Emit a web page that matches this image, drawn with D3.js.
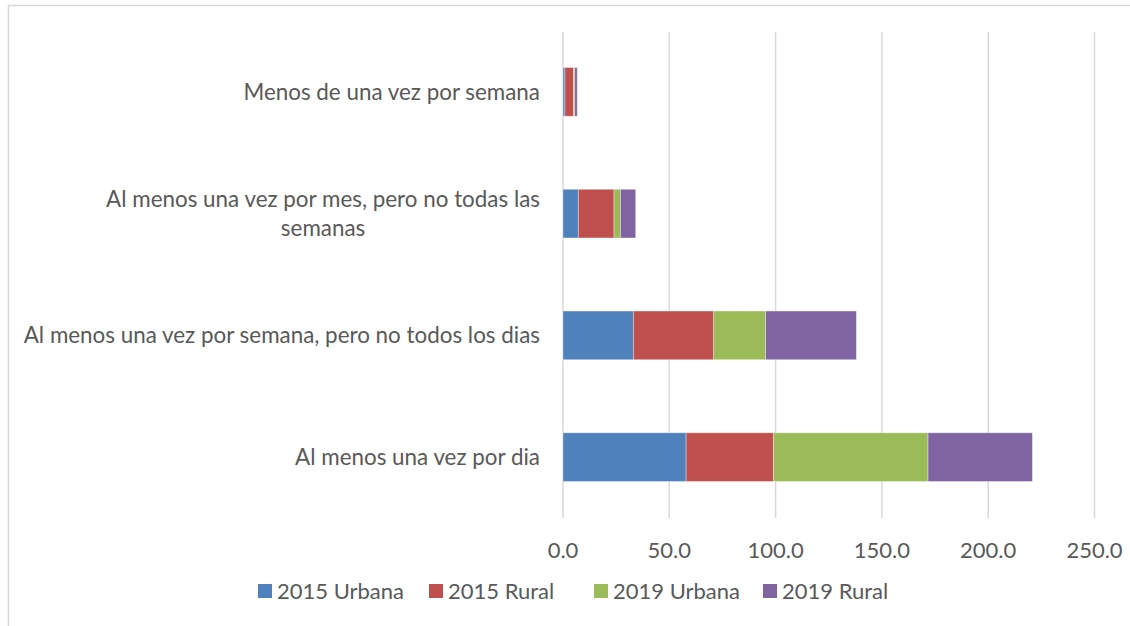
<!DOCTYPE html>
<html>
<head>
<meta charset="utf-8">
<script src="https://cdn.jsdelivr.net/npm/d3@7"></script>
<style>
  body { margin: 0; background: #fff; }
  text { font-family: Lato, "Open Sans", sans-serif; fill: #595959; }
</style>
</head>
<body>
<script>
// categories, bottom to top as in the original chart
let categories = [
  "Al menos una vez por dia",
  "Al menos una vez por semana, pero no todos los dias",
  "Al menos una vez por mes, pero no todas las semanas",
  "Menos de una vez por semana"
];
let seriesNames = ["2015 Urbana", "2015 Rural", "2019 Urbana", "2019 Rural"];
let urbana2015 = [57.9, 33.1, 7.2, 0.9];
let rural2015 = [41.1, 37.8, 16.8, 4.1];
let urbana2019 = [72.7, 24.4, 3.0, 0.5];
let rural2019 = [49.1, 42.7, 7.2, 1.2];
let ticks = [0, 50, 100, 150, 200, 250];
let colors = ["#4f81bd", "#c0504d", "#9bbb59", "#8064a2"];

let width = 1130, height = 626;

let svg = d3.select("body").append("svg")
    .attr("width", width)
    .attr("height", height);

// outer chart border (runs past the right and bottom of the picture)
svg.append("rect")
  .attr("x", 8.5).attr("y", 5.5)
  .attr("width", 1300).attr("height", 800)
  .attr("fill", "none")
  .attr("stroke", "#d9d9d9")
  .attr("stroke-width", 1.5);

// the title sits above the picture, only the tail of its last letter shows
svg.append("text")
  .attr("x", 608).attr("y", -4)
  .attr("text-anchor", "middle")
  .style("font-size", "24px")
  .style("fill", "#000")
  .text("y");

let x = d3.scaleLinear().domain([0, 250]).range([563, 1094.5]);
let y = d3.scaleBand()
    .domain(categories)
    .range([518, 31])
    .paddingInner(0.6)
    .paddingOuter(0.3);

// gridlines
svg.append("g")
  .selectAll("line")
  .data(ticks)
  .enter().append("line")
  .attr("x1", d => x(d)).attr("x2", d => x(d))
  .attr("y1", 32).attr("y2", 518)
  .attr("stroke", "#d9d9d9")
  .attr("stroke-width", 1.5);

let table = categories.map((c, i) => ({
  cat: c,
  "2015 Urbana": urbana2015[i],
  "2015 Rural": rural2015[i],
  "2019 Urbana": urbana2019[i],
  "2019 Rural": rural2019[i]
}));
let stacked = d3.stack().keys(seriesNames)(table);

svg.append("g")
  .selectAll("g")
  .data(stacked)
  .enter().append("g")
  .attr("fill", (d, i) => colors[i])
  .selectAll("rect")
  .data(d => d)
  .enter().append("rect")
  .attr("x", d => x(d[0]))
  .attr("width", d => x(d[1]) - x(d[0]))
  .attr("y", d => y(d.data.cat))
  .attr("height", y.bandwidth())
  .attr("stroke", "#fff")
  .attr("stroke-opacity", 0.45)
  .attr("stroke-width", 0.8);

// category labels, wrapped like the original
let labelLines = {
  "Al menos una vez por mes, pero no todas las semanas":
    ["Al menos una vez por mes, pero no todas las", "semanas"]
};
let labels = svg.append("g")
  .selectAll("text")
  .data(categories)
  .enter().append("text")
  .style("font-size", "22.4px")
  .attr("text-anchor", "end");

labels.each(function(d) {
  let t = d3.select(this);
  let cy = y(d) + y.bandwidth() / 2;
  let lines = labelLines[d];
  if (!lines) {
    t.attr("x", 540).attr("y", cy + 8).text(d);
    return;
  }
  // wrapped label: lines centred on each other, block right aligned
  t.attr("text-anchor", "middle");
  lines.forEach((l, i) => {
    t.append("tspan").attr("y", cy - 7 + i * 29).text(l);
  });
  let w = d3.max(t.selectAll("tspan").nodes(), n => n.getComputedTextLength());
  t.selectAll("tspan").attr("x", 540 - w / 2);
});

// x tick labels
svg.append("g")
  .selectAll("text")
  .data(ticks)
  .enter().append("text")
  .attr("x", d => x(d))
  .attr("y", 558)
  .attr("text-anchor", "middle")
  .style("font-size", "22px")
  .text(d => d3.format(".1f")(d));

// legend
let legendX = [258, 429, 594, 763];
let legend = svg.append("g")
  .selectAll("g")
  .data(seriesNames)
  .enter().append("g")
  .attr("transform", (d, i) => "translate(" + legendX[i] + ",0)");

legend.append("rect")
  .attr("x", 0).attr("y", 584)
  .attr("width", 14).attr("height", 14)
  .attr("fill", (d, i) => colors[i]);

legend.append("text")
  .attr("x", 19).attr("y", 599)
  .style("font-size", "22px")
  .text(d => d);
</script>
</body>
</html>
